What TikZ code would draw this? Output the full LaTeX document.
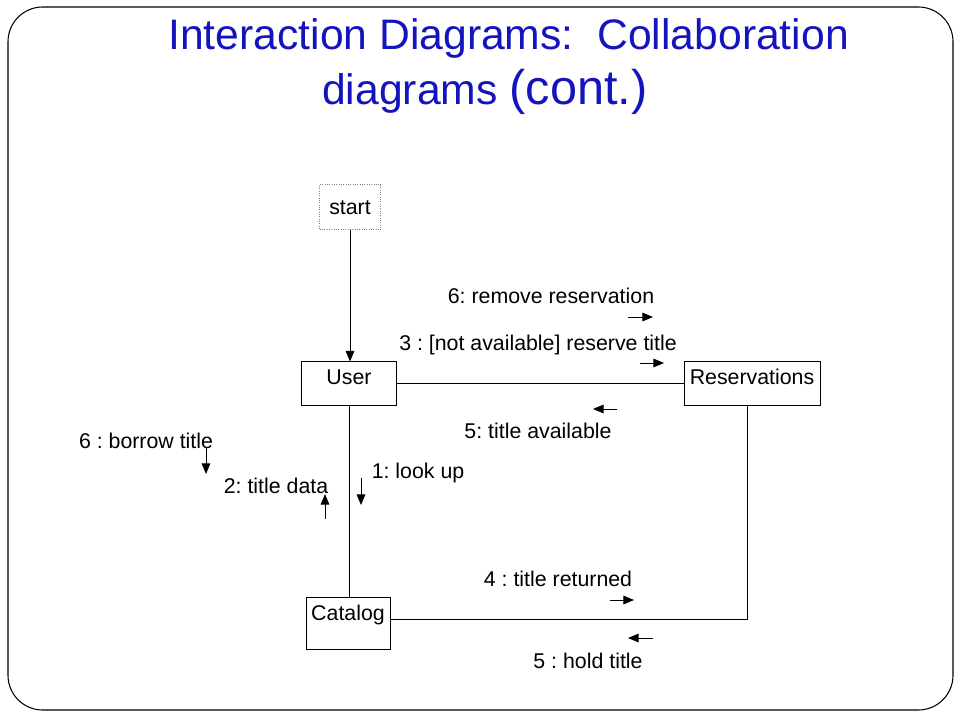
\documentclass[tikz,border=0pt]{standalone}
\usepackage{fontspec}
\setmainfont{Liberation Sans}
\usetikzlibrary{arrows.meta}
\definecolor{titleblue}{RGB}{20,20,190}
\frenchspacing

\begin{document}
\begin{tikzpicture}[x=0.75pt, y=-0.75pt,
    objbox/.style={draw, line width=0.75pt, inner sep=0pt, anchor=base,
        font=\fontsize{16}{19}\selectfont},
    msg/.style={-{Triangle[length=8pt,width=6.5pt]}, line width=0.75pt},
    lbl/.style={anchor=base, inner sep=0pt, font=\fontsize{16}{19}\selectfont}]

\useasboundingbox (0,0) rectangle (960,720);

% Frame
\draw[line width=0.8pt, rounded corners=26pt] (8,7) rectangle (953,710);

% Title
\node[anchor=base west, inner sep=0pt, text=titleblue,
    font=\fontsize{32}{36}\selectfont] (title1) at (168,50)
    {Interaction Diagrams:\ \ Collaboration};
\node[anchor=base west, inner sep=0pt, text=titleblue,
    font=\fontsize{32}{36}\selectfont] (title2) at (322,105)
    {diagrams {\fontsize{36.5}{40}\selectfont(cont.)}};

% Objects
\node[objbox, draw=gray, densely dotted, minimum width=45.75pt,
    text height=22.5pt, text depth=11.25pt] (start) at (350,215) {start};
\node[objbox, minimum width=71.25pt,
    text height=16.9pt, text depth=16.1pt] (user) at (349,384.5) {User};
\node[objbox, minimum width=102pt,
    text height=16.9pt, text depth=16.1pt] (reservations) at (752,384.5) {Reservations};
\node[objbox, minimum width=63pt,
    text height=17.6pt, text depth=21.4pt] (catalog) at (348,620.5) {Catalog};

% Links
\draw[msg] (start.south) -- (start.south |- user.north);
\draw[line width=0.75pt] (user) -- (reservations);
\draw[line width=0.75pt] (user.south) -- (user.south |- catalog.north);
\draw[line width=0.75pt] ([yshift=3pt]catalog.east) -| ([xshift=-3.75pt]reservations.south);

% Messages User - Reservations
\node[lbl] (m6r) at (551,304) {6: remove reservation};
\draw[msg] (628,317) -- (653,317);
\node[lbl] (m3) at (538,350) {3 : [not available] reserve title};
\draw[msg] (640,363) -- (664,363);
\draw[msg] (617,409) -- (593,409);
\node[lbl] (m5a) at (538,438) {5: title available};

% Messages User - Catalog
\node[lbl] (m6b) at (146,448) {6 : borrow title};
\draw[msg] (206,447) -- (206,474);
\node[lbl] (m2) at (276,493) {2: title data};
\draw[msg] (325,519) -- (325,494);
\node[lbl] (m1) at (418,478) {1: look up};
\draw[msg] (361,478) -- (361,505);

% Messages Catalog - Reservations
\node[lbl] (m4) at (558,586) {4 : title returned};
\draw[msg] (610,600) -- (634,600);
\draw[msg] (653,638) -- (628,638);
\node[lbl] (m5h) at (588,668) {5 : hold title};

\end{tikzpicture}
\end{document}
